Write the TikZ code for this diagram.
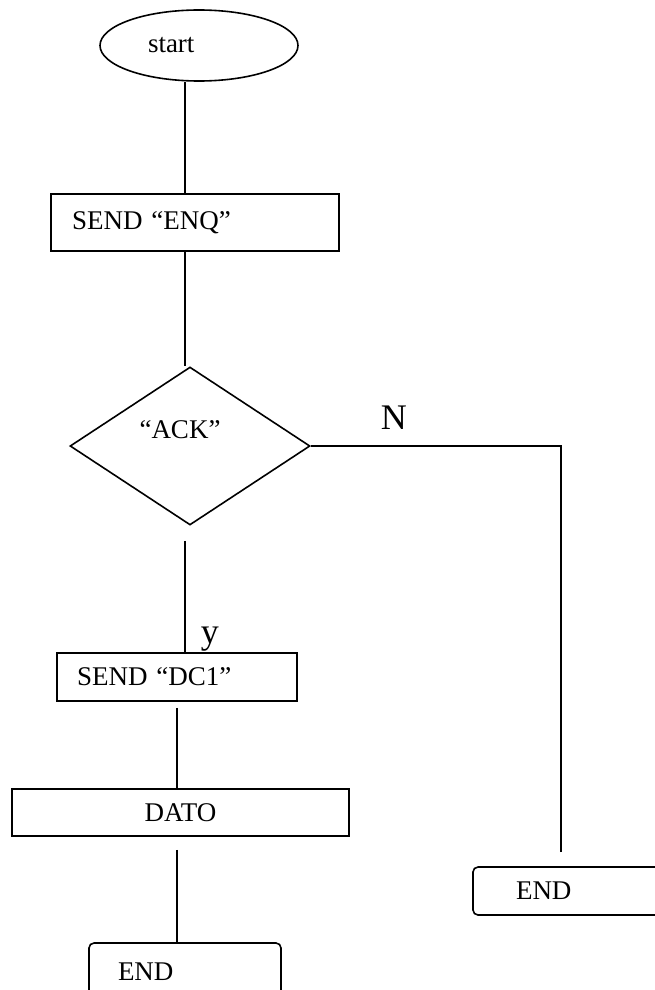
\documentclass[tikz,border=0pt]{standalone}
\usepackage{fontspec}
\setmainfont{Liberation Serif}
\usetikzlibrary{shapes.geometric}

\begin{document}
\begin{tikzpicture}[x=1pt,y=-1pt,line width=1.6pt,
  every node/.style={font=\fontsize{27}{32}\selectfont},
  procbox/.style={draw,rectangle,inner ysep=0pt,minimum height=48pt},
  endbox/.style={draw,rectangle,rounded corners=5pt,inner ysep=0pt,minimum height=48pt},
  bigtxt/.style={font=\fontsize{36}{43}\selectfont,inner sep=0pt,anchor=base west}]

\useasboundingbox (0,0) rectangle (655,990);


\coordinate (axis) at (185,0);
\coordinate (nturn) at (561,444);


\node [draw,ellipse,minimum width=198pt,minimum height=71pt,inner sep=0pt,text width=102pt,align=left] (start) at (199,45.5) {start};
\node [procbox,minimum height=57pt,text width=246pt,inner xsep=21pt,align=left] (enq) at (195,222.5) {SEND “ENQ”};
\node [draw,diamond,minimum width=240pt,minimum height=158pt,inner sep=0pt] (ack) at (190,446) {};
\node (acktxt) at (180,430) {“ACK”};
\node [procbox,text width=200pt,inner xsep=20pt,align=left] (dcone) at (177,677) {SEND “DC1”};
\node [procbox,minimum width=337pt,minimum height=47pt] (dato) at (180.5,812.5) {DATO};
\node [endbox,minimum height=57pt,text width=134pt,inner xsep=29pt,align=left] (endl) at (185,971.5) {END};
\node [endbox,text width=106pt,inner xsep=43pt,align=left] (endr) at (569,891) {END};


\node [bigtxt] (nlbl) at (380,429) {N};
\node [bigtxt] (ylbl) at (200,643) {y};


\draw (start.south -| axis) -- (enq.north -| axis);
\draw (enq.south -| axis) -- (ack.north -| axis);
\draw (ack.south -| axis) ++(0,15) -- (dcone.north -| axis);
\draw (dcone.south) ++(0,6) -- (dato.north -| dcone.south);
\draw (dato.south -| dcone.south) ++(0,13) -- (endl.north -| dcone.south);
\draw (endr.north -| nturn) ++(0,-14) -- (ack.east -| nturn) -- (ack.east);


\end{tikzpicture}
\end{document}
